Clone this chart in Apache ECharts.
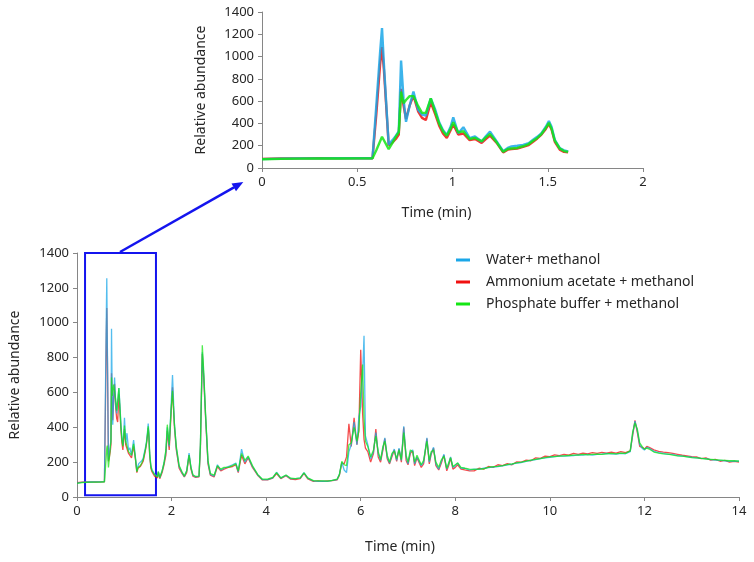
<!DOCTYPE html>
<html>
<head>
<meta charset="utf-8">
<script src="https://cdn.jsdelivr.net/npm/echarts@6/dist/echarts.min.js"></script>
<style>
html,body{margin:0;padding:0;background:#fff;}
#chart{width:754px;height:562px;}
</style>
</head>
<body>
<div id="chart"></div>
<script>
// Retention time (min), shared by all three traces
const time = [
  0, 0.1, 0.2, 0.3, 0.4, 0.5, 0.58, 0.60, 0.62, 0.63, 0.64, 0.665, 0.685, 0.705, 0.718, 0.73, 0.743, 0.756, 0.775, 0.795,
  0.82, 0.84, 0.86, 0.886, 0.91, 0.93, 0.95, 0.97, 0.99, 1.004, 1.03, 1.057, 1.09, 1.118, 1.153, 1.175, 1.197, 1.232, 1.266, 1.29,
  1.31, 1.34, 1.37, 1.40, 1.423, 1.445, 1.467, 1.49, 1.506, 1.52, 1.537, 1.563, 1.585, 1.607,
  1.64, 1.67, 1.70, 1.72, 1.75, 1.80, 1.84, 1.88, 1.91, 1.95, 1.99, 2.02, 2.06, 2.10, 2.16, 2.22, 2.27, 2.32, 2.37, 2.41,
  2.45, 2.51, 2.58, 2.61, 2.65, 2.68, 2.72, 2.77, 2.82, 2.90, 2.97, 3.04, 3.11, 3.20, 3.29, 3.36, 3.41, 3.48, 3.55, 3.62,
  3.71, 3.82, 3.92, 4.03, 4.14, 4.22, 4.31, 4.42, 4.52, 4.62, 4.72, 4.80, 4.88, 5.00, 5.10, 5.20, 5.30, 5.40, 5.50, 5.55,
  5.60, 5.65, 5.70, 5.75, 5.80, 5.86, 5.92, 5.96, 6.00, 6.04, 6.07, 6.10, 6.15, 6.21, 6.27, 6.32, 6.37, 6.42, 6.47, 6.51,
  6.56, 6.61, 6.66, 6.71, 6.76, 6.81, 6.86, 6.91, 6.96, 7.00, 7.05, 7.10, 7.14, 7.19, 7.23, 7.28, 7.33, 7.40, 7.45, 7.49,
  7.54, 7.59, 7.65, 7.70, 7.76, 7.82, 7.86, 7.90, 7.95, 8.00, 8.05, 8.12, 8.20, 8.30, 8.40, 8.50, 8.60, 8.70, 8.80, 8.90,
  9.0, 9.1, 9.2, 9.3, 9.4, 9.5, 9.6, 9.7, 9.8, 9.9, 10.0, 10.1, 10.2, 10.3, 10.4, 10.5, 10.6, 10.7, 10.8, 10.9,
  11.0, 11.1, 11.2, 11.3, 11.4, 11.5, 11.6, 11.7, 11.75, 11.8, 11.85, 11.9, 11.95, 12.0, 12.05, 12.1, 12.2, 12.3, 12.4, 12.5,
  12.6, 12.7, 12.8, 12.9, 13.0, 13.1, 13.2, 13.3, 13.4, 13.5, 13.6, 13.7, 13.8, 13.9, 14.0
];

const water = [
  80, 84, 86, 86, 87, 87, 88, 560, 1040, 1255, 930, 210, 250, 295, 330, 965, 620, 415, 560, 685,
  521, 480, 470, 625, 520, 410, 340, 297, 370, 455, 312, 366, 268, 283, 238, 285, 327, 238, 150, 180,
  193, 200, 208, 222, 253, 280, 312, 370, 422, 370, 253, 178, 158, 148,
  130, 125, 117, 145, 110, 150, 195, 260, 400, 290, 520, 700, 420, 280, 175, 140, 118, 150, 252, 170,
  125, 115, 118, 300, 830, 700, 460, 200, 130, 120, 185, 155, 165, 175, 185, 195, 145, 275, 200, 230,
  175, 128, 100, 100, 110, 142, 108, 125, 105, 105, 108, 140, 108, 92, 90, 91, 90, 95, 100, 130,
  200, 155, 140, 260, 300, 430, 300, 460, 520, 700, 925, 350, 300, 220, 260, 370, 250, 210, 280, 340,
  230, 195, 240, 275, 210, 280, 210, 405, 230, 190, 260, 270, 190, 230, 240, 180, 200, 340, 200, 250,
  285, 190, 160, 200, 245, 160, 190, 230, 170, 180, 195, 165, 165, 155, 160, 158, 165, 168, 172, 175,
  178, 185, 188, 195, 198, 205, 210, 215, 220, 225, 228, 232, 235, 234, 236, 238, 242, 240, 245, 240,
  244, 246, 250, 248, 246, 250, 248, 260, 360, 435, 380, 300, 280, 270, 285, 280, 262, 255, 250, 245,
  244, 238, 235, 232, 228, 225, 222, 220, 215, 212, 210, 208, 205, 206, 205
];

const ammonium = [
  82, 85, 86, 87, 86, 87, 87, 480, 930, 1085, 880, 205, 230, 265, 300, 710, 560, 440, 560, 650,
  505, 450, 430, 590, 480, 380, 310, 270, 340, 390, 300, 310, 250, 260, 225, 260, 290, 225, 140, 165,
  170, 175, 190, 205, 235, 265, 300, 350, 395, 345, 235, 165, 145, 140,
  120, 115, 110, 140, 105, 140, 185, 240, 380, 270, 480, 630, 400, 270, 165, 135, 115, 140, 240, 160,
  120, 112, 115, 280, 820, 680, 450, 190, 125, 115, 175, 150, 160, 170, 175, 185, 140, 240, 190, 225,
  170, 125, 98, 98, 108, 135, 105, 122, 102, 100, 105, 135, 104, 90, 92, 90, 92, 94, 98, 125,
  195, 190, 230, 420, 290, 455, 300, 380, 845, 480, 330, 280, 260, 200, 250, 390, 230, 200, 270, 335,
  220, 190, 230, 270, 205, 275, 200, 400, 210, 185, 250, 265, 180, 225, 230, 170, 190, 335, 190, 245,
  280, 180, 155, 190, 240, 150, 180, 225, 160, 170, 185, 160, 155, 150, 150, 165, 160, 175, 170, 185,
  180, 192, 185, 202, 200, 212, 208, 225, 222, 235, 232, 242, 238, 245, 240, 250, 245, 252, 248, 255,
  250, 256, 252, 258, 252, 260, 255, 265, 350, 440, 370, 290, 285, 275, 290, 285, 270, 262, 258, 255,
  250, 245, 240, 236, 232, 230, 220, 224, 212, 216, 205, 210, 200, 204, 200
];

const phosphate = [
  78, 82, 84, 85, 85, 86, 87, 160, 240, 280, 295, 170, 225, 290, 320, 685, 580, 610, 645, 645,
  555, 495, 495, 625, 500, 400, 330, 290, 355, 410, 320, 330, 260, 270, 240, 275, 305, 230, 145, 170,
  175, 180, 195, 215, 245, 270, 305, 360, 405, 355, 245, 175, 152, 145,
  128, 120, 115, 145, 112, 150, 195, 270, 415, 300, 500, 610, 420, 290, 180, 145, 120, 150, 240, 170,
  128, 118, 120, 300, 870, 720, 470, 210, 135, 125, 180, 160, 170, 170, 180, 190, 150, 250, 210, 235,
  180, 130, 102, 102, 112, 140, 110, 126, 108, 106, 110, 138, 110, 94, 92, 93, 91, 96, 102, 130,
  205, 185, 180, 300, 310, 400, 320, 380, 600, 760, 450, 320, 290, 230, 270, 350, 260, 215, 290, 320,
  240, 200, 250, 265, 220, 270, 215, 370, 240, 200, 270, 260, 200, 240, 250, 185, 210, 320, 210, 260,
  270, 200, 170, 210, 235, 165, 195, 225, 175, 185, 195, 170, 165, 160, 158, 160, 162, 170, 174, 176,
  180, 186, 190, 196, 200, 206, 212, 216, 220, 226, 230, 232, 234, 236, 238, 240, 240, 244, 242, 245,
  246, 244, 248, 250, 248, 252, 250, 265, 370, 425, 390, 310, 290, 275, 280, 275, 258, 252, 248, 246,
  240, 236, 234, 230, 226, 224, 222, 218, 216, 214, 212, 210, 208, 208, 206
];

const seriesNames = ['Water+ methanol', 'Ammonium acetate + methanol', 'Phosphate buffer + methanol'];
const seriesColors = ['#1aa7e8', '#f01010', '#14e614'];
const mainXTicks = { min: 0, max: 14, interval: 2 };
const insetXTicks = { min: 0, max: 2, interval: 0.5 };
const yTicks = { min: 0, max: 1400, interval: 200 };
const zoomBox = { t0: 0.17, t1: 1.67, y0: 10, y1: 1400 };
const insetEnd = 1.61;

const FONT = 'Noto Sans';
const values = [water, ammonium, phosphate];

function pairs(arr, limit) {
  const out = [];
  for (let i = 0; i < time.length; i++) {
    if (limit !== undefined && time[i] > limit) break;
    out.push([time[i], arr[i]]);
  }
  return out;
}

function axisCommon() {
  return {
    axisLine: { show: true, lineStyle: { color: '#868686', width: 1 } },
    axisTick: { show: true, inside: false, length: 4, lineStyle: { color: '#868686' } },
    splitLine: { show: false },
    axisLabel: { color: '#262626', fontFamily: FONT, fontSize: 13, formatter: v => String(v) },
    nameTextStyle: { color: '#262626', fontFamily: FONT, fontSize: 14 }
  };
}

const drawOrder = [1, 0, 2]; // red under blue, green on top
const series = [];
drawOrder.forEach(k => {
  series.push({
    name: seriesNames[k], type: 'line', xAxisIndex: 0, yAxisIndex: 0,
    data: pairs(values[k]), showSymbol: false, symbol: 'none',
    lineStyle: { color: seriesColors[k], width: 1.3, opacity: 0.75 },
    itemStyle: { color: seriesColors[k] },
    z: 2
  });
});
drawOrder.forEach(k => {
  series.push({
    name: seriesNames[k], type: 'line', xAxisIndex: 1, yAxisIndex: 1,
    data: pairs(values[k], insetEnd), showSymbol: false, symbol: 'none',
    lineStyle: { color: seriesColors[k], width: 2.4, opacity: 0.85 },
    itemStyle: { color: seriesColors[k] },
    z: 2
  });
});
// zoom box on main chart
series[0].markArea = {
  silent: true,
  itemStyle: { color: 'rgba(0,0,0,0)', borderColor: '#1414ee', borderWidth: 2 },
  label: { show: false },
  data: [[{ xAxis: zoomBox.t0, yAxis: zoomBox.y1 }, { xAxis: zoomBox.t1, yAxis: zoomBox.y0 }]]
};

const chart = echarts.init(document.getElementById('chart'), null, { renderer: 'canvas' });
chart.setOption({
  animation: false,
  backgroundColor: '#fff',
  grid: [
    { left: 76, top: 253, width: 663, height: 244 },
    { left: 262, top: 12, width: 381, height: 156 }
  ],
  legend: {
    data: seriesNames,
    orient: 'vertical',
    left: 451, top: 248,
    icon: 'rect', itemWidth: 14, itemHeight: 3, itemGap: 8,
    textStyle: { fontFamily: FONT, fontSize: 14, color: '#262626', padding: [0, 0, 0, 11] }
  },
  xAxis: [
    Object.assign(axisCommon(), {
      type: 'value', gridIndex: 0, min: mainXTicks.min, max: mainXTicks.max, interval: mainXTicks.interval,
      name: 'Time (min)', nameLocation: 'middle', nameGap: 43,
      nameTextStyle: { color: '#262626', fontFamily: FONT, fontSize: 14, padding: [0, 16, 0, 0] }
    }),
    Object.assign(axisCommon(), {
      type: 'value', gridIndex: 1, min: insetXTicks.min, max: insetXTicks.max, interval: insetXTicks.interval,
      name: 'Time (min)', nameLocation: 'middle', nameGap: 38,
      nameTextStyle: { color: '#262626', fontFamily: FONT, fontSize: 14, padding: [0, 32, 0, 0] }
    })
  ],
  yAxis: [
    Object.assign(axisCommon(), {
      type: 'value', gridIndex: 0, min: yTicks.min, max: yTicks.max, interval: yTicks.interval,
      name: 'Relative abundance', nameLocation: 'middle', nameGap: 55
    }),
    Object.assign(axisCommon(), {
      type: 'value', gridIndex: 1, min: yTicks.min, max: yTicks.max, interval: yTicks.interval,
      name: 'Relative abundance', nameLocation: 'middle', nameGap: 54
    })
  ],
  series: series,
  graphic: [
    { type: 'line', z: 100, shape: { x1: 120, y1: 252, x2: 234, y2: 187.4 },
      style: { stroke: '#1414ee', lineWidth: 2.5 } },
    { type: 'polygon', z: 100, shape: { points: [[243.3, 182], [231.5, 183.5], [236, 191.3]] },
      style: { fill: '#1414ee' } }
  ]
});
</script>
</body>
</html>
